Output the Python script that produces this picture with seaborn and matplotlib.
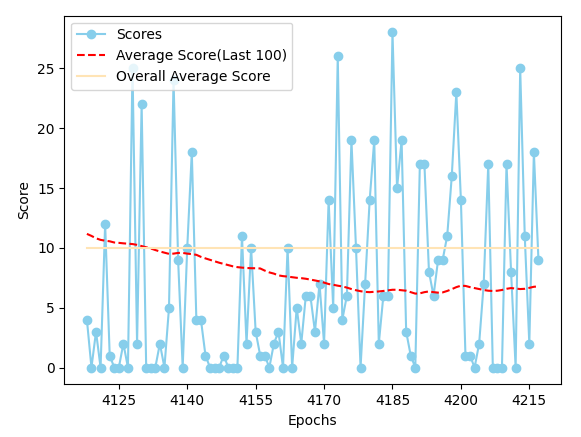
import numpy as np
import pandas as pd
import matplotlib
matplotlib.use("Agg")
import matplotlib.pyplot as plt
import seaborn as sns

# ----------------------------
# Data
# ----------------------------
first_epoch = 4118

scores = [4, 0, 3, 0, 12, 1, 0, 0, 2, 0,
          25, 2, 22, 0, 0, 0, 2, 0, 5, 24,
          9, 0, 10, 18, 4, 4, 1, 0, 0, 0,
          1, 0, 0, 0, 11, 2, 10, 3, 1, 1,
          0, 2, 3, 0, 10, 0, 5, 2, 6, 6,
          3, 7, 2, 14, 5, 26, 4, 6, 19, 10,
          0, 7, 14, 19, 2, 6, 6, 28, 15, 19,
          3, 1, 0, 17, 17, 8, 6, 9, 9, 11,
          16, 23, 14, 1, 1, 0, 2, 7, 17, 0,
          0, 0, 17, 8, 0, 25, 11, 2, 18, 9]

avg_last_100 = [11.17, 11.0, 10.8, 10.67, 10.6, 10.55, 10.45, 10.42, 10.38, 10.35,
                10.32, 10.25, 10.15, 10.05, 9.95, 9.82, 9.7, 9.6, 9.5, 9.52,
                9.58, 9.58, 9.52, 9.48, 9.42, 9.25, 9.12, 9.0, 8.88, 8.76,
                8.66, 8.56, 8.46, 8.39, 8.35, 8.32, 8.3, 8.3, 8.28, 8.1,
                7.95, 7.85, 7.7, 7.64, 7.6, 7.55, 7.5, 7.47, 7.42, 7.35,
                7.28, 7.2, 7.1, 6.98, 6.92, 6.84, 6.78, 6.68, 6.56, 6.46,
                6.38, 6.32, 6.3, 6.33, 6.36, 6.4, 6.45, 6.5, 6.5, 6.46,
                6.42, 6.3, 6.18, 6.2, 6.3, 6.36, 6.3, 6.26, 6.28, 6.4,
                6.55, 6.72, 6.84, 6.82, 6.72, 6.64, 6.56, 6.48, 6.42, 6.4,
                6.42, 6.48, 6.58, 6.64, 6.6, 6.56, 6.58, 6.66, 6.75, 6.78]

overall_avg = 9.97

xticks = [4125, 4140, 4155, 4170, 4185, 4200, 4215]

epochs = np.arange(first_epoch, first_epoch + len(scores))
df = pd.DataFrame({
    "epoch": epochs,
    "score": scores,
    "avg100": avg_last_100,
    "overall": [overall_avg] * len(scores),
})

# ----------------------------
# Plot
# ----------------------------
fig = plt.figure(figsize=(5.81, 4.37), dpi=100)
ax = fig.add_axes([0.1107, 0.1206, 0.8549, 0.8434])

sns.lineplot(data=df, x="epoch", y="score", ax=ax, color="skyblue",
             marker="o", markersize=6, markeredgecolor="skyblue",
             markeredgewidth=1, linewidth=1.5, label="Scores")
sns.lineplot(data=df, x="epoch", y="avg100", ax=ax, color="red",
             linestyle="--", linewidth=1.5, label="Average Score(Last 100)")
sns.lineplot(data=df, x="epoch", y="overall", ax=ax, color="moccasin",
             linewidth=1.5, label="Overall Average Score")

ax.set_xticks(xticks)
ax.set_xlabel("Epochs")
ax.set_ylabel("Score")
ax.legend(loc="upper left")

fig.savefig("out.png", dpi=100)
